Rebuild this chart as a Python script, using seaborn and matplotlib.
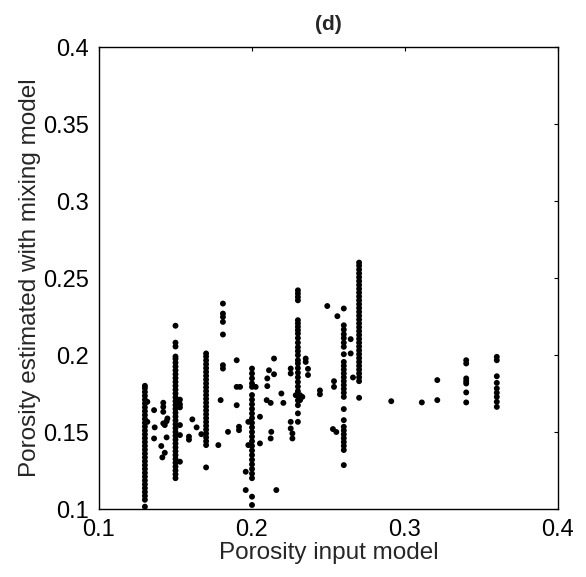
import numpy as np
import pandas as pd
import matplotlib
matplotlib.use("Agg")
import matplotlib.pyplot as plt
import seaborn as sns

# ---- data ----
# dense vertical columns (input porosity -> estimated porosities)
col_013_y = [0.1015, 0.106, 0.1085, 0.111, 0.1135, 0.116, 0.1185, 0.121, 0.1235, 0.126,
             0.1285, 0.131, 0.1335, 0.136, 0.1385, 0.141, 0.1435, 0.146, 0.1485, 0.151,
             0.1535, 0.156, 0.1585, 0.161, 0.1635, 0.166, 0.1685, 0.171, 0.1735, 0.176,
             0.1785, 0.180]
col_015_y = [0.120, 0.1225, 0.125, 0.1275, 0.130, 0.1325, 0.135, 0.1375, 0.140, 0.1425,
             0.145, 0.1475, 0.150, 0.1525, 0.155, 0.1575, 0.160, 0.1625, 0.165, 0.1675,
             0.170, 0.1725, 0.175, 0.1775, 0.180, 0.1825, 0.185, 0.1875, 0.190, 0.1925,
             0.195, 0.1975, 0.199, 0.2055, 0.208, 0.219]
col_017_y = [0.127, 0.1415, 0.144, 0.1465, 0.149, 0.1515, 0.154, 0.1565, 0.159, 0.1615,
             0.164, 0.1665, 0.169, 0.1715, 0.174, 0.1765, 0.179, 0.1815, 0.184, 0.1865,
             0.189, 0.1915, 0.194, 0.1965, 0.199, 0.201]
col_020_y = [0.1026, 0.108, 0.120, 0.123, 0.126, 0.129, 0.132, 0.135, 0.138, 0.141,
             0.144, 0.147, 0.150, 0.153, 0.156, 0.159, 0.162, 0.165, 0.168, 0.171,
             0.174, 0.1793, 0.1815, 0.1848, 0.188, 0.1912]
col_023_y = [0.1566, 0.1621, 0.1674, 0.1705, 0.1735, 0.1765, 0.1795, 0.1825, 0.1855, 0.1885,
             0.1915, 0.1945, 0.1966, 0.1999, 0.2025, 0.205, 0.208, 0.211, 0.2139, 0.2161,
             0.2183, 0.2205, 0.2226, 0.2355, 0.2377, 0.2399, 0.242]
col_026_y = [0.1285, 0.1383, 0.141, 0.1435, 0.146, 0.1485, 0.151, 0.1534, 0.1577, 0.1649,
             0.1728, 0.1755, 0.178, 0.1805, 0.183, 0.1855, 0.188, 0.1905, 0.193, 0.1955,
             0.2005, 0.2053, 0.208, 0.211, 0.2135, 0.2165, 0.2193, 0.2302]
col_027_y = [0.1722, 0.183, 0.1855, 0.188, 0.1905, 0.193, 0.1955, 0.198, 0.2005, 0.203,
             0.2055, 0.208, 0.2105, 0.213, 0.2155, 0.218, 0.2205, 0.223, 0.2255, 0.228,
             0.2305, 0.233, 0.2355, 0.238, 0.2405, 0.243, 0.2455, 0.248, 0.2505, 0.253,
             0.2555, 0.258, 0.260]
col_034_y = [0.1692, 0.1757, 0.1815, 0.183, 0.1848, 0.1945, 0.1966]
col_036_y = [0.1663, 0.1696, 0.1728, 0.1755, 0.1783, 0.1819, 0.1862, 0.1966, 0.1988]

columns_x = [0.13, 0.15, 0.17, 0.20, 0.23, 0.26, 0.27, 0.34, 0.36]
columns_y = [col_013_y, col_015_y, col_017_y, col_020_y, col_023_y,
             col_026_y, col_027_y, col_034_y, col_036_y]

# isolated points
scatter_x = [0.1316, 0.1316, 0.136, 0.1364, 0.136, 0.142, 0.142, 0.142, 0.142, 0.1447,
             0.1442, 0.143, 0.1442, 0.1407, 0.143, 0.1414, 0.1529, 0.1529, 0.1529, 0.1529,
             0.1529, 0.1529, 0.1588, 0.1588, 0.161, 0.1638, 0.1669, 0.178, 0.1795, 0.181,
             0.181, 0.181, 0.181, 0.181, 0.181, 0.181,
             0.1976, 0.1976, 0.1959, 0.1959, 0.2024, 0.2052, 0.2052, 0.19, 0.19, 0.1922,
             0.19, 0.1915, 0.1915, 0.1843, 0.21, 0.2111, 0.21, 0.2144, 0.2144, 0.2096,
             0.2122, 0.2126, 0.2122, 0.2159, 0.2192, 0.2205, 0.2253, 0.2253, 0.2253, 0.2253,
             0.2264, 0.2264, 0.2286, 0.2314, 0.2314, 0.2329, 0.2351, 0.2351, 0.2366, 0.2366,
             0.2444, 0.2444, 0.2492, 0.2558, 0.2645, 0.2645, 0.266, 0.2536, 0.2536, 0.2529,
             0.2551, 0.291, 0.311, 0.3211, 0.3211]
scatter_y = [0.1696, 0.1566, 0.1642, 0.153, 0.1458, 0.169, 0.1663, 0.1631, 0.1556, 0.1588,
             0.157, 0.1545, 0.1465, 0.1409, 0.1365, 0.1335, 0.171, 0.168, 0.166, 0.1545,
             0.148, 0.1307, 0.147, 0.145, 0.1582, 0.153, 0.1486, 0.1415, 0.1707, 0.2334,
             0.2269, 0.2247, 0.2215, 0.2133, 0.1934, 0.1912,
             0.1566, 0.1415, 0.1242, 0.1123, 0.1793, 0.1599, 0.1426, 0.1966, 0.1793, 0.1793,
             0.1674, 0.1534, 0.1512, 0.1501, 0.1848, 0.1901, 0.1798, 0.1977, 0.1875, 0.1707,
             0.1689, 0.1501, 0.1458, 0.1123, 0.175, 0.1689, 0.1912, 0.188, 0.1566, 0.1523,
             0.1491, 0.1458, 0.1739, 0.1739, 0.1707, 0.1728, 0.1977, 0.1955, 0.191, 0.187,
             0.177, 0.1745, 0.2318, 0.2252, 0.2103, 0.201, 0.1854, 0.183, 0.1793, 0.1519,
             0.150, 0.170, 0.1692, 0.1837, 0.1707]

x_ticks = [0.1, 0.2, 0.3, 0.4]
y_ticks = [0.1, 0.15, 0.2, 0.25, 0.3, 0.35, 0.4]
x_tick_labels = ["0.1", "0.2", "0.3", "0.4"]
y_tick_labels = ["0.1", "0.15", "0.2", "0.25", "0.3", "0.35", "0.4"]

# ---- build table ----
xs, ys = [], []
for cx, cy in zip(columns_x, columns_y):
    xs.extend([cx] * len(cy))
    ys.extend(cy)
xs.extend(scatter_x)
ys.extend(scatter_y)
df = pd.DataFrame({"input": xs, "estimated": ys})

# ---- plot ----
sns.set_style("white")
plt.rcParams["font.family"] = ["Liberation Sans", "DejaVu Sans"]

fig = plt.figure(figsize=(5.86, 5.77), dpi=100)
ax = fig.add_axes([99 / 586, (577 - 509) / 577, (558 - 99) / 586, (509 - 47) / 577])

sns.scatterplot(data=df, x="input", y="estimated", ax=ax, color="black",
                s=18, linewidth=0, edgecolor="none")

ax.set_xlim(0.1, 0.4)
ax.set_ylim(0.1, 0.4)
ax.set_xticks(x_ticks)
ax.set_xticklabels(x_tick_labels)
ax.set_yticks(y_ticks)
ax.set_yticklabels(y_tick_labels)
ax.tick_params(direction="in", length=3, width=0.8, labelsize=17,
               top=True, right=True, color="black", labelcolor="black", pad=7)
for sp in ax.spines.values():
    sp.set_color("black")
    sp.set_linewidth(1.0)
    sp.set_visible(True)

ax.set_xlabel("Porosity input model", fontsize=17.5, labelpad=1)
ax.set_ylabel("Porosity estimated with mixing model", fontsize=17.5, labelpad=2)
ax.set_title("(d)", fontsize=15, fontweight="bold", pad=12)

fig.savefig("out.png", dpi=100)
